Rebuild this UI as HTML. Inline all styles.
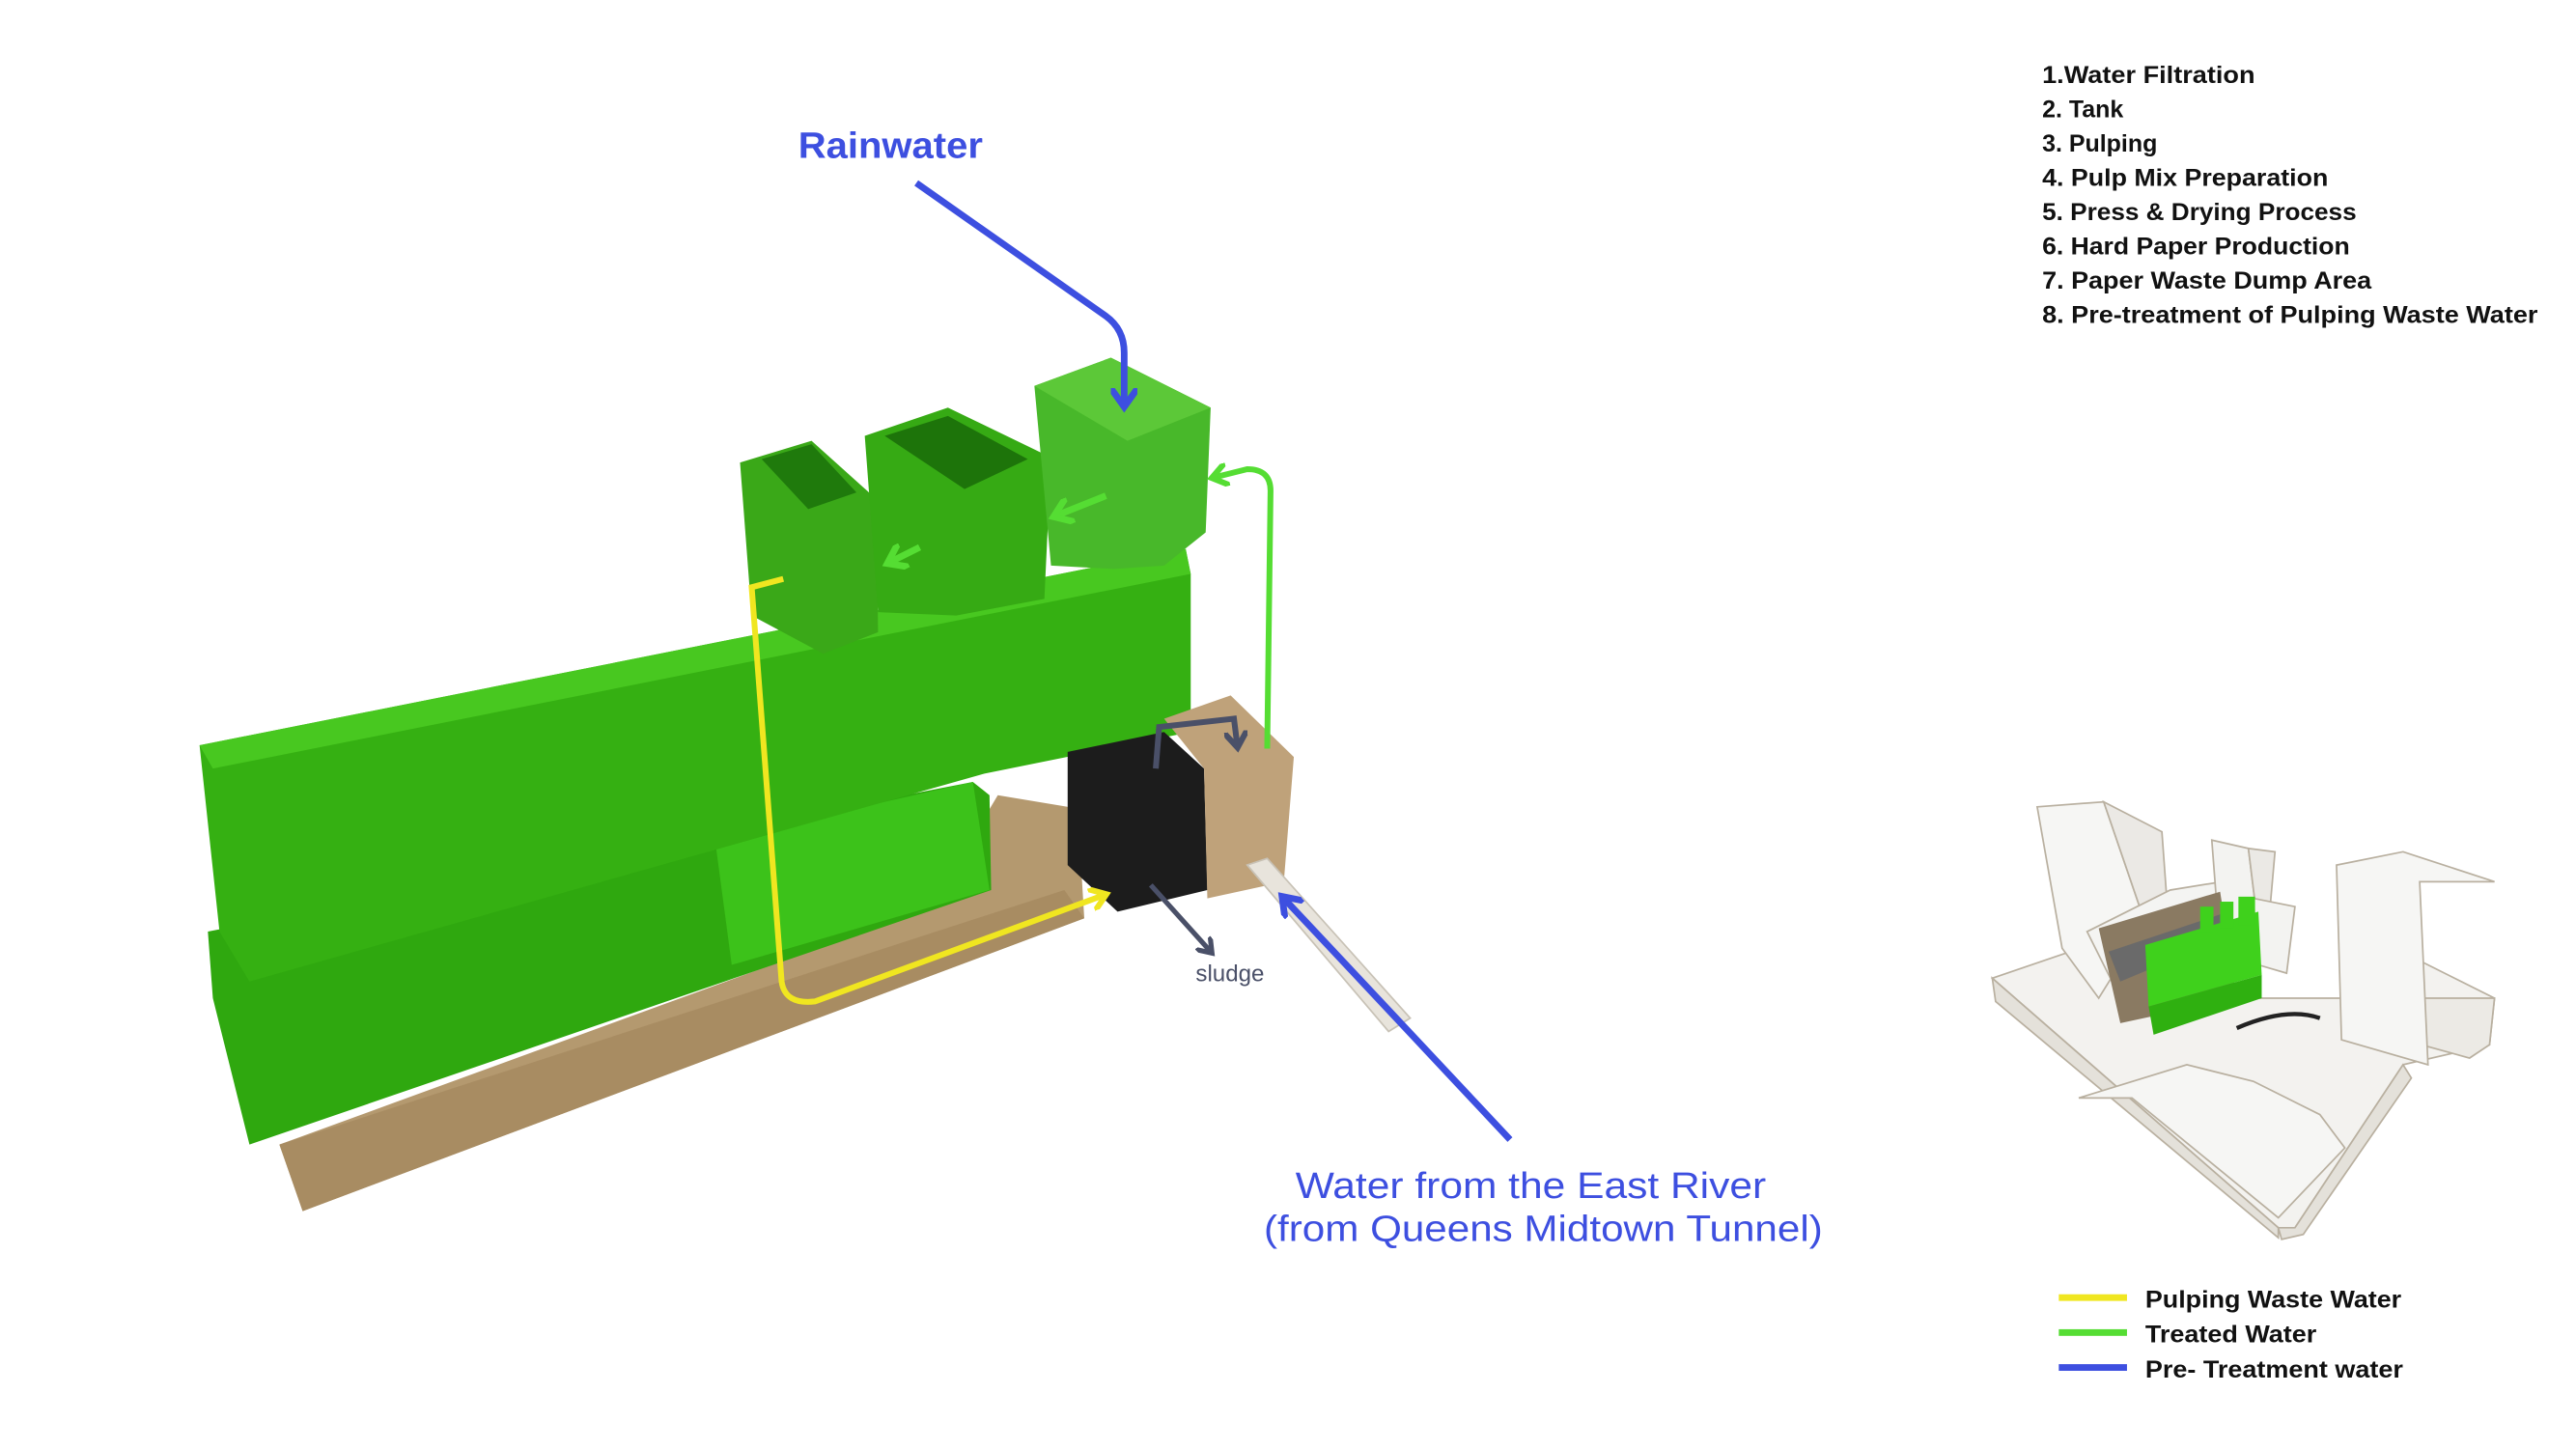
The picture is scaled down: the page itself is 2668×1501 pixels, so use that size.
<!DOCTYPE html>
<html><head><meta charset="utf-8"><style>
html,body{margin:0;padding:0;background:#fff;}
svg{display:block;}
text{font-family:"Liberation Sans",Arial,sans-serif;}
</style></head><body>
<svg width="2668" height="1501" viewBox="0 0 1549 871" preserveAspectRatio="none" xmlns="http://www.w3.org/2000/svg">
<defs>
<marker id="ab" viewBox="0 0 10 10" refX="6" refY="5" markerWidth="4" markerHeight="4" orient="auto"><path d="M0,0 L7,5 L0,10" fill="none" stroke="#3d4fe0" stroke-width="2.5"/></marker>
<marker id="ag" viewBox="0 0 10 10" refX="6" refY="5" markerWidth="4" markerHeight="4" orient="auto"><path d="M0,0 L7,5 L0,10" fill="none" stroke="#55dd33" stroke-width="2.5"/></marker>
<marker id="ay" viewBox="0 0 10 10" refX="6" refY="5" markerWidth="4" markerHeight="4" orient="auto"><path d="M0,0 L7,5 L0,10" fill="none" stroke="#f0e620" stroke-width="2.5"/></marker>
<marker id="ak" viewBox="0 0 10 10" refX="6" refY="5" markerWidth="4" markerHeight="4" orient="auto"><path d="M0,0 L7,5 L0,10" fill="none" stroke="#4a5068" stroke-width="2.5"/></marker>
</defs>
<rect width="1549" height="871" fill="#fff"/>

<!-- base cardboard -->
<polygon points="168,688 560,545 600,478 648,486 652,552 182,728" fill="#b4996f"/>
<polygon points="168,688 640,535 652,552 182,728" fill="#a88c62"/>
<!-- lower green bar -->
<polygon points="125,560 585,470 595,478 596,535 150,688 128,600" fill="#2fa80f"/>
<polygon points="430,505 585,470 595,535 440,580" fill="#3cc21a"/>
<!-- upper long box -->
<polygon points="120,448 713,330 716,345 716,440 592,465 150,590 132,560" fill="#35b012"/>
<polygon points="120,448 713,330 716,345 128,462" fill="#48c820"/>
<!-- tubes -->
<polygon points="445,278 488,265 527,300 528,380 495,393 452,370" fill="#3aa818"/>
<polygon points="458,276 488,267 515,296 486,306" fill="#1f7a0c"/>
<polygon points="520,262 570,245 632,275 628,360 575,370 528,368" fill="#36aa14"/>
<polygon points="532,262 570,250 618,276 580,294" fill="#1d740a"/>
<polygon points="622,232 668,215 728,245 725,320 700,340 670,342 632,340" fill="#48b82a"/>
<polygon points="622,232 668,215 728,245 678,265" fill="#5cc838"/>
<!-- black cube & tan box -->
<polygon points="642,452 700,440 724,462 726,535 672,548 642,520" fill="#1c1c1c"/>
<polygon points="700,432 740,418 778,455 772,530 726,540 724,462" fill="#bfa27a"/>
<!-- white pipe -->
<polygon points="750,520 762,516 848,612 835,620" fill="#e8e4dc" stroke="#c8c2b6" stroke-width="1"/>

<!-- arrows -->
<path d="M551,110 L665,190 Q676,198 676,212 L676,243" fill="none" stroke="#3d4fe0" stroke-width="4" marker-end="url(#ab)"/>
<path d="M908,685 L772,540" fill="none" stroke="#3d4fe0" stroke-width="4" marker-end="url(#ab)"/>
<path d="M762,450 L764,295 Q764,282 750,282 L730,287" fill="none" stroke="#55dd33" stroke-width="3.5" marker-end="url(#ag)"/>
<path d="M665,298 L635,310" fill="none" stroke="#55dd33" stroke-width="4" marker-end="url(#ag)"/>
<path d="M553,329 L535,338" fill="none" stroke="#55dd33" stroke-width="4" marker-end="url(#ag)"/>
<path d="M471,348 L452,353 L470,590 Q472,604 490,602 L664,538" fill="none" stroke="#f0e620" stroke-width="3.5" marker-end="url(#ay)"/>
<path d="M695,462 L697,437 L742,432 L744,448" fill="none" stroke="#4a5068" stroke-width="3.5" marker-end="url(#ak)"/>
<path d="M692,532 L728,572" fill="none" stroke="#4a5068" stroke-width="3" marker-end="url(#ak)"/>

<!-- labels -->
<text x="480" y="95" font-size="22" font-weight="bold" fill="#3d4fe0" textLength="111" lengthAdjust="spacingAndGlyphs">Rainwater</text>
<text x="719" y="590" font-size="14" fill="#4a5068">sludge</text>
<text x="779" y="720" font-size="22" fill="#3d4fe0" textLength="283" lengthAdjust="spacingAndGlyphs">Water from the East River</text>
<text x="760" y="746" font-size="22" fill="#3d4fe0" textLength="336" lengthAdjust="spacingAndGlyphs">(from Queens Midtown Tunnel)</text>

<g font-size="14.5" fill="#111" font-weight="bold">
<text x="1228" y="50" textLength="128" lengthAdjust="spacingAndGlyphs">1.Water Filtration</text>
<text x="1228" y="70.6">2. Tank</text>
<text x="1228" y="91.2">3. Pulping</text>
<text x="1228" y="111.8" textLength="172" lengthAdjust="spacingAndGlyphs">4. Pulp Mix Preparation</text>
<text x="1228" y="132.4" textLength="189" lengthAdjust="spacingAndGlyphs">5. Press &amp; Drying Process</text>
<text x="1228" y="153" textLength="185" lengthAdjust="spacingAndGlyphs">6. Hard Paper Production</text>
<text x="1228" y="173.6" textLength="198" lengthAdjust="spacingAndGlyphs">7. Paper Waste Dump Area</text>
<text x="1228" y="194.2" textLength="298" lengthAdjust="spacingAndGlyphs">8. Pre-treatment of Pulping Waste Water</text>
<text x="1290" y="786" textLength="154" lengthAdjust="spacingAndGlyphs">Pulping Waste Water</text>
<text x="1290" y="807" textLength="103" lengthAdjust="spacingAndGlyphs">Treated Water</text>
<text x="1290" y="828" textLength="155" lengthAdjust="spacingAndGlyphs">Pre- Treatment water</text>
</g>
<rect x="1238" y="778" width="41" height="4" fill="#f0e620"/>
<rect x="1238" y="799" width="41" height="4" fill="#55dd33"/>
<rect x="1238" y="820" width="41" height="4" fill="#3d4fe0"/>

<!-- inset site model -->
<g stroke="#b9b0a0" stroke-width="1">
<polygon points="1198,588 1245,572 1300,560 1330,590 1350,600 1410,600 1440,570 1500,600 1497,628 1445,640 1380,738 1370,738" fill="#f3f2ef"/>
<polygon points="1198,588 1370,738 1370,744 1200,602" fill="#e4e1da"/>
<polygon points="1370,738 1380,738 1445,640 1450,648 1385,742 1372,745" fill="#e4e1da"/>
<polygon points="1410,600 1500,600 1497,628 1485,636 1445,625" fill="#eceae5"/>
<polygon points="1250,660 1315,640 1355,650 1395,670 1410,690 1370,732 1282,660" fill="#f6f6f4"/>
<polygon points="1225,485 1265,482 1290,555 1262,600 1240,570" fill="#f6f6f4"/>
<polygon points="1265,482 1300,500 1304,555 1290,555" fill="#ebe9e5"/>
<polygon points="1255,560 1305,535 1355,527 1360,560 1270,590" fill="#f4f4f2"/>
<polygon points="1330,505 1352,510 1360,575 1335,570" fill="#f3f3f1"/>
<polygon points="1352,510 1368,512 1362,580 1360,575" fill="#ebe9e5"/>
<polygon points="1355,540 1380,545 1375,585 1358,580" fill="#f3f3f1"/>
<polygon points="1405,520 1445,512 1500,530 1455,530 1460,640 1408,625" fill="#f6f6f4"/>
</g>
<polygon points="1262,558 1335,536 1345,600 1275,615" fill="#8a7a62"/>
<polygon points="1268,572 1340,548 1342,562 1275,590" fill="#6a6a6a"/>
<polygon points="1290,568 1358,548 1360,586 1292,605" fill="#3fd11c"/>
<polygon points="1292,605 1360,586 1360,600 1295,622" fill="#2fb010"/>
<rect x="1323" y="545" width="8" height="15" fill="#3fd11c"/>
<rect x="1335" y="542" width="8" height="16" fill="#3fd11c"/>
<rect x="1346" y="539" width="10" height="17" fill="#3fd11c"/>
<path d="M1345,618 Q1375,605 1395,612" stroke="#222" stroke-width="2.5" fill="none"/>
</svg>
</body></html>
